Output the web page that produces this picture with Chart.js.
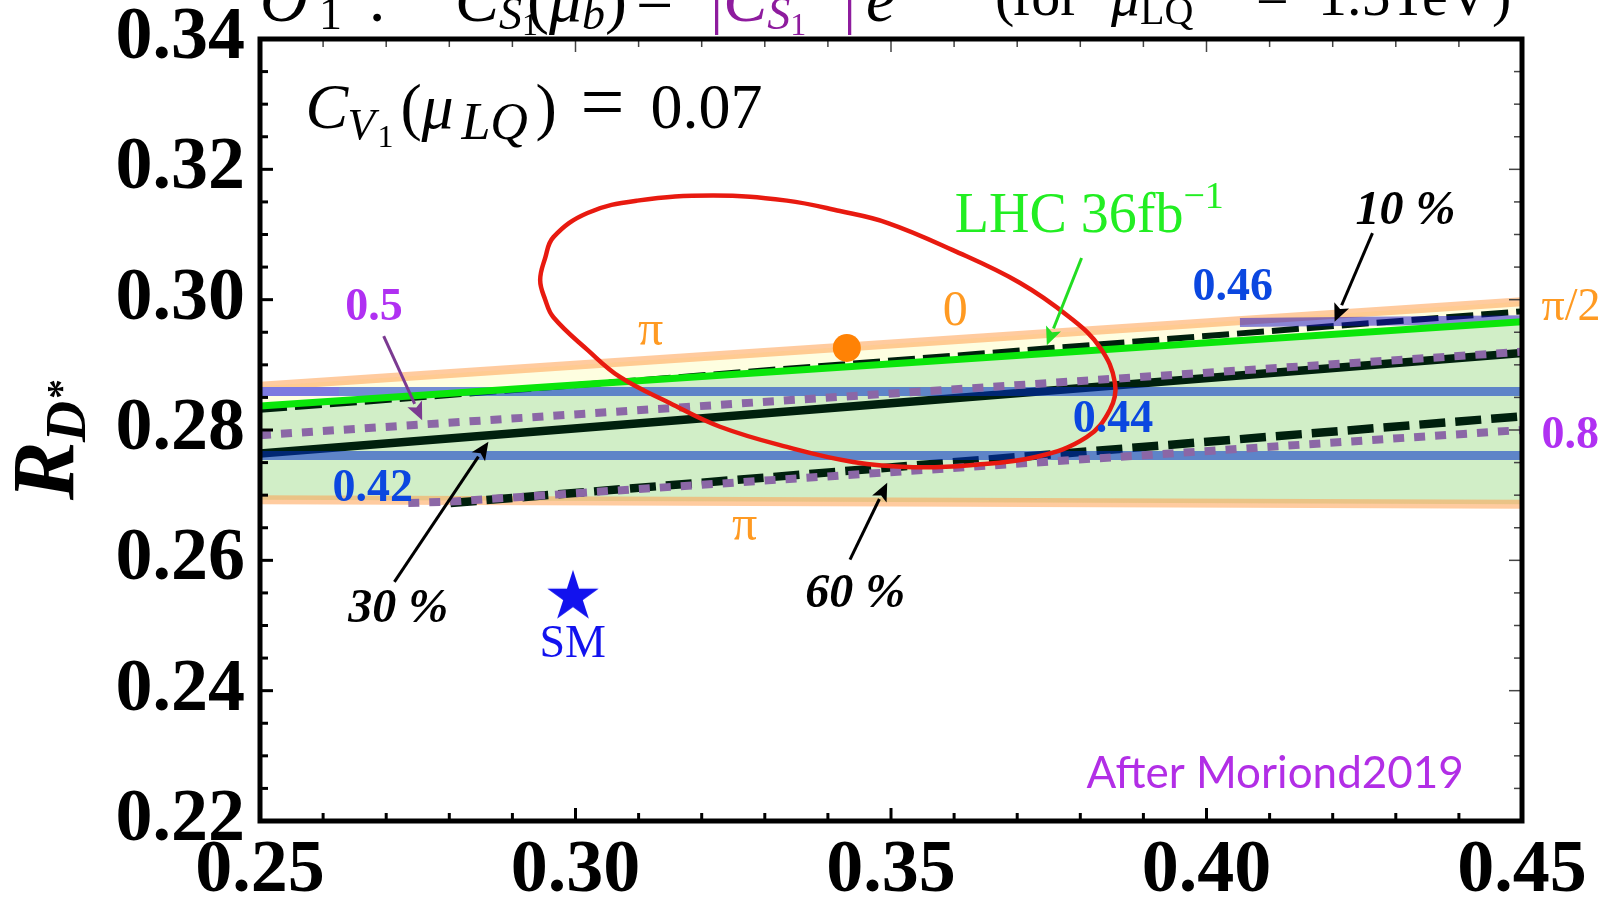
<!DOCTYPE html>
<html lang="en">
<head>
<meta charset="UTF-8">
<title>R_D* vs R_D, C_V1 = 0.07</title>
<script src="https://cdn.jsdelivr.net/npm/chart.js"></script>
<style>
  html, body { margin: 0; padding: 0; background: #fff; }
  canvas { display: block; }
</style>
</head>
<body>
<canvas id="rdChart" width="1613" height="909"></canvas>
<script>
// ---- values (x = R_D, y = R_D*) ----
const xEdges = [0.25, 0.45];
const lhcLine = [0.2837, 0.2966];      // LHC 36 fb^-1 bound
const phiUpper = [0.2867, 0.2997];     // phase scan, upper edge
const phiLower = [0.2693, 0.2686];     // phase scan, lower edge
const cs042 = [0.2761, 0.2761];        // |C_S1| contours
const cs044 = [0.2859, 0.2859];
const cs044LeftX = [0.25, 0.2625];     // violet stub of the 0.44 contour
const cs046X = [0.4053, 0.45];
const cs046Y = [0.2965, 0.2969];
const br10Y = [0.2831, 0.2982];        // B_c -> tau nu lines
const br30Y = [0.2764, 0.2918];
const br60X = [0.2802, 0.45];
const br60Y = [0.2688, 0.2821];
const r05Y = [0.2792, 0.2920];         // ratio lines
const r08X = [0.2735, 0.2800, 0.45];
const r08Y = [0.2688, 0.2690, 0.2800];
// 1 sigma ellipse, walked round once; the first three points repeat at the end
const ellipseX = [0.2944, 0.2952, 0.2965, 0.3019, 0.3098, 0.3218, 0.3335, 0.3419, 0.3494, 0.3598,
                  0.3704, 0.3783, 0.3831, 0.3855, 0.3847, 0.3810, 0.3731, 0.3625, 0.3535, 0.3440,
                  0.3335, 0.3229, 0.3150, 0.3071, 0.3019, 0.2965, 0.2952,
                  0.2944, 0.2952, 0.2965];
const ellipseY = [0.3030, 0.3064, 0.3096, 0.3133, 0.3152, 0.3160, 0.3152, 0.3136, 0.3118, 0.3076,
                  0.3026, 0.2973, 0.2927, 0.2872, 0.2831, 0.2789, 0.2759, 0.2746, 0.2743, 0.2751,
                  0.2774, 0.2805, 0.2841, 0.2881, 0.2923, 0.2973, 0.3000,
                  0.3030, 0.3064, 0.3096];
const bestFit = [0.3430, 0.2926];
const smPoint = [0.2996, 0.2544];

const serif = '"Liberation Serif", "Times New Roman", serif';

function pts(xs, ys) { return xs.map((x, i) => ({ x: x, y: ys[i] })); }

function lineSet(label, xs, ys, color, width, extra) {
  return Object.assign({
    label: label, data: pts(xs, ys), borderColor: color, borderWidth: width,
    pointRadius: 0, tension: 0, fill: false, clip: 0, borderCapStyle: 'butt'
  }, extra || {});
}

function makeStar(r, color) {
  const c = document.createElement('canvas');
  const s = Math.ceil(r * 2 + 2);
  c.width = s; c.height = s;
  const g = c.getContext('2d');
  g.fillStyle = color;
  g.beginPath();
  for (let i = 0; i < 10; i++) {
    const rad = i % 2 === 0 ? r : r * 0.382;
    const a = -Math.PI / 2 + i * Math.PI / 5;
    const px = s / 2 + rad * Math.cos(a), py = s / 2 + rad * Math.sin(a);
    if (i === 0) g.moveTo(px, py); else g.lineTo(px, py);
  }
  g.closePath();
  g.fill();
  return c;
}

const orangeBand = 'rgba(255,160,80,0.55)';
const blueBand = 'rgba(0,45,200,0.55)';
const violetBand = 'rgba(20,10,200,0.5)';
const dark = '#00200d';
const purpleDots = '#8b67a6';
const lastEllipse = ellipseX.length - 1;

const datasets = [
  lineSet('phi lower', xEdges, phiLower, orangeBand, 9, { order: 15 }),
  lineSet('phi upper', xEdges, phiUpper, orangeBand, 9, { order: 15 }),
  lineSet('allowed', xEdges, lhcLine, 'rgba(0,0,0,0)', 0, { order: 30, fill: { target: 0 }, backgroundColor: '#d1eec7' }),
  lineSet('excluded', xEdges, phiUpper, 'rgba(0,0,0,0)', 0, { order: 29, fill: { target: 2 }, backgroundColor: '#fefee0' }),
  lineSet('30 %', xEdges, br30Y, dark, 8.5, { order: 12 }),
  lineSet('10 %', xEdges, br10Y, dark, 6, { order: 12, borderDash: [27, 8] }),
  lineSet('60 %', br60X, br60Y, dark, 8.5, { order: 12, borderDash: [26, 10] }),
  lineSet('0.42', xEdges, cs042, blueBand, 9, { order: 10 }),
  lineSet('0.44', xEdges, cs044, blueBand, 9, { order: 10 }),
  lineSet('0.44 stub', cs044LeftX, cs044, '#7c79e0', 9, { order: 9 }),
  lineSet('0.46', cs046X, cs046Y, violetBand, 9, { order: 10 }),
  lineSet('0.5', xEdges, r05Y, purpleDots, 8, { order: 8, borderDash: [11, 10] }),
  lineSet('0.8', r08X, r08Y, purpleDots, 8, { order: 8, borderDash: [11, 10] }),
  lineSet('LHC 36fb-1', xEdges, lhcLine, '#0ae60a', 7, { order: 6 }),
  lineSet('1 sigma', ellipseX, ellipseY, '#e81a10', 4.5, {
    order: 4, tension: 0.4,
    // open ends of the wrapped loop are hidden so the closure stays smooth
    segment: { borderColor: c => (c.p0DataIndex === 0 || c.p1DataIndex === lastEllipse) ? 'rgba(0,0,0,0)' : undefined }
  }),
  { label: 'best fit', data: pts([bestFit[0]], [bestFit[1]]), showLine: false, pointRadius: 14,
    pointBackgroundColor: '#ff8205', pointBorderWidth: 0, order: 2 },
  { label: 'SM', data: pts([smPoint[0]], [smPoint[1]]), showLine: false, pointRadius: 27,
    pointStyle: makeStar(27, '#1212ee'), order: 1 }
];

// inward ticks on all four sides + frame
const frameTicks = {
  id: 'frameTicks',
  afterDatasetsDraw(chart) {
    const { ctx, chartArea: a, scales: { x, y } } = chart;
    ctx.save();
    for (let k = 0; k <= 20; k++) {
      const px = x.getPixelForValue(0.25 + k * 0.01);
      const len = k % 5 === 0 ? 13 : 8;
      ctx.strokeStyle = '#000'; ctx.lineWidth = 3;
      ctx.beginPath(); ctx.moveTo(px, a.bottom); ctx.lineTo(px, a.bottom - len); ctx.stroke();
      ctx.strokeStyle = '#444'; ctx.lineWidth = 1.5;
      ctx.beginPath(); ctx.moveTo(px, a.top); ctx.lineTo(px, a.top + len); ctx.stroke();
    }
    for (let k = 0; k <= 24; k++) {
      const py = y.getPixelForValue(0.22 + k * 0.005);
      const len = k % 4 === 0 ? 13 : 8;
      ctx.strokeStyle = '#000'; ctx.lineWidth = 3;
      ctx.beginPath(); ctx.moveTo(a.left, py); ctx.lineTo(a.left + len, py); ctx.stroke();
      ctx.strokeStyle = '#444'; ctx.lineWidth = 1.5;
      ctx.beginPath(); ctx.moveTo(a.right, py); ctx.lineTo(a.right - len, py); ctx.stroke();
    }
    ctx.strokeStyle = '#000';
    ctx.lineWidth = 5;
    ctx.strokeRect(a.left, a.top, a.right - a.left, a.bottom - a.top);
    ctx.restore();
  }
};

function drawRuns(ctx, x0, y0, runs) {
  let x = x0;
  for (const r of runs) {
    if (r.off !== undefined) x = x0 + r.off;
    ctx.font = r.f;
    ctx.fillStyle = r.c || '#000';
    ctx.fillText(r.t, x, y0 + (r.dy || 0));
    x += ctx.measureText(r.t).width;
  }
}

function arrow(ctx, x1, y1, x2, y2, color) {
  const ang = Math.atan2(y2 - y1, x2 - x1);
  const hl = 18, hw = 8;
  const bx = x2 - hl * Math.cos(ang), by = y2 - hl * Math.sin(ang);
  ctx.strokeStyle = color; ctx.lineWidth = 3;
  ctx.beginPath(); ctx.moveTo(x1, y1); ctx.lineTo(bx, by); ctx.stroke();
  ctx.fillStyle = color;
  ctx.beginPath(); ctx.moveTo(x2, y2);
  ctx.lineTo(bx + hw * Math.sin(ang), by - hw * Math.cos(ang));
  ctx.lineTo(bx + 4 * Math.cos(ang), by + 4 * Math.sin(ang));
  ctx.lineTo(bx - hw * Math.sin(ang), by + hw * Math.cos(ang));
  ctx.closePath(); ctx.fill();
}

const it = s => 'italic ' + s + 'px ' + serif;
const rm = s => s + 'px ' + serif;
const bd = s => 'bold ' + s + 'px ' + serif;
const bi = s => 'italic bold ' + s + 'px ' + serif;
const orangeTxt = '#ff9a22', blueTxt = '#0b47e0', purpleTxt = '#b030f2';

const notes = [
  { x: 0.2572, y: 0.3263, runs: [
    { t: 'C', f: it(64) }, { t: 'V', f: it(45), dy: 11, off: 42 }, { t: '1', f: rm(32), dy: 19, off: 72 },
    { t: '(', f: rm(64), off: 95 }, { t: 'μ', f: it(64), off: 116 }, { t: 'LQ', f: it(52), dy: 11, off: 156 },
    { t: ')', f: rm(64), off: 230 }, { t: '=', f: rm(78), off: 275 }, { t: '0.07', f: rm(64), off: 345 }] },
  { x: 0.3601, y: 0.3104, runs: [{ t: 'LHC 36fb', f: rm(56), c: '#22ee22' }, { t: '−1', f: rm(38), c: '#22ee22', dy: -24 }] },
  { x: 0.4236, y: 0.3116, runs: [{ t: '10 %', f: bi(48) }] },
  { x: 0.2640, y: 0.2505, runs: [{ t: '30 %', f: bi(48) }] },
  { x: 0.3364, y: 0.2528, runs: [{ t: '60 %', f: bi(48) }] },
  { x: 0.3978, y: 0.3000, runs: [{ t: '0.46', f: bd(46), c: blueTxt }] },
  { x: 0.3788, y: 0.2797, runs: [{ t: '0.44', f: bd(46), c: blueTxt }] },
  { x: 0.2615, y: 0.2691, runs: [{ t: '0.42', f: bd(46), c: blueTxt }] },
  { x: 0.2635, y: 0.2969, runs: [{ t: '0.5', f: bd(46), c: purpleTxt }] },
  { x: 0.4531, y: 0.2772, runs: [{ t: '0.8', f: bd(46), c: purpleTxt }] },
  { x: 0.4531, y: 0.2969, runs: [{ t: 'π/2', f: rm(46), c: orangeTxt }] },
  { x: 0.3582, y: 0.2961, runs: [{ t: '0', f: rm(50), c: orangeTxt }] },
  { x: 0.3099, y: 0.2930, runs: [{ t: 'π', f: rm(50), c: orangeTxt }] },
  { x: 0.3248, y: 0.2631, runs: [{ t: 'π', f: rm(50), c: orangeTxt }] },
  { x: 0.2943, y: 0.2452, runs: [{ t: 'SM', f: rm(46), c: '#1212ee' }] },
  { x: 0.3810, y: 0.2251, runs: [{ t: 'After Moriond2019', f: '44px Lato, "Open Sans", sans-serif', c: '#b22ee6' }] }
];

const arrows = [
  { from: [0.3802, 0.3064], to: [0.3747, 0.2930], c: '#22dd22' },
  { from: [0.4263, 0.3102], to: [0.4203, 0.2966], c: '#000' },
  { from: [0.2696, 0.2944], to: [0.2757, 0.2815], c: '#7b3a91' },
  { from: [0.2713, 0.2567], to: [0.2862, 0.2782], c: '#000' },
  { from: [0.3435, 0.2601], to: [0.3494, 0.2719], c: '#000' }
];

const decorations = {
  id: 'decorations',
  afterDraw(chart) {
    const { ctx, scales: { x, y } } = chart;
    ctx.save();
    ctx.textBaseline = 'alphabetic';
    ctx.textAlign = 'left';
    for (const n of notes) drawRuns(ctx, x.getPixelForValue(n.x), y.getPixelForValue(n.y), n.runs);
    for (const a of arrows) {
      arrow(ctx, x.getPixelForValue(a.from[0]), y.getPixelForValue(a.from[1]),
                 x.getPixelForValue(a.to[0]), y.getPixelForValue(a.to[1]), a.c);
    }
    // title, mostly cut off by the top edge
    const purple = '#8e1c9e';
    drawRuns(ctx, 0, 21, [
      { t: 'O', f: it(66), off: 260 }, { t: '1', f: rm(46), dy: 8, off: 319 }, { t: ':', f: rm(66), off: 368 },
      { t: 'C', f: it(66), off: 455 }, { t: 'S', f: it(46), dy: 8 }, { t: '1', f: rm(32), dy: 14 },
      { t: '(', f: rm(66), off: 527 }, { t: 'μ', f: it(66) }, { t: 'b', f: it(46), dy: 8 }, { t: ')', f: rm(66) },
      { t: '=', f: rm(66), off: 636 },
      { t: '|', f: rm(66), c: purple, off: 710 }, { t: 'C', f: it(66), c: purple }, { t: 'S', f: it(46), c: purple, dy: 8 },
      { t: '1', f: rm(32), c: purple, dy: 14 }, { t: '|', f: rm(66), c: purple, off: 843 },
      { t: 'e', f: it(66), off: 866 }, { t: 'iφ', f: it(46), dy: -34 }
    ]);
    drawRuns(ctx, 0, 15, [
      { t: '(', f: rm(58), off: 995 }, { t: 'for', f: rm(58), off: 1012 }, { t: 'μ', f: it(58), off: 1111 },
      { t: 'LQ', f: rm(40), dy: 9 }, { t: '=', f: rm(58), off: 1256 }, { t: '1.5TeV', f: rm(58), off: 1318 },
      { t: ')', f: rm(58), off: 1492 }
    ]);
    // y axis title R_{D*}
    ctx.translate(73, 500);
    ctx.rotate(-Math.PI / 2);
    drawRuns(ctx, 0, 0, [
      { t: 'R', f: bi(88) }, { t: 'D', f: bi(57), dy: 12, off: 58 }, { t: '*', f: bd(40), dy: 1, off: 101 }
    ]);
    ctx.restore();
  }
};

new Chart(document.getElementById('rdChart'), {
  type: 'line',
  data: { datasets: datasets },
  options: {
    responsive: false,
    animation: false,
    events: [],
    layout: { padding: { left: 0, right: 91, top: 39, bottom: 0 } },
    plugins: { legend: { display: false }, tooltip: { enabled: false } },
    scales: {
      x: {
        type: 'linear', min: 0.25, max: 0.45,
        grid: { display: false, drawTicks: false }, border: { display: false },
        ticks: { stepSize: 0.05, padding: 14, color: '#000', maxRotation: 0, autoSkip: false,
                 font: { family: serif, size: 74, weight: 'bold', lineHeight: 1 },
                 callback: v => v.toFixed(2) },
        afterFit: s => { s.height = 88; s.paddingLeft = 0; s.paddingRight = 0; }
      },
      y: {
        type: 'linear', min: 0.22, max: 0.34,
        grid: { display: false, drawTicks: false }, border: { display: false },
        ticks: { stepSize: 0.02, padding: 15, color: '#000', autoSkip: false,
                 font: { family: serif, size: 74, weight: 'bold', lineHeight: 1 },
                 callback: v => v.toFixed(2) },
        afterFit: s => { s.width = 260; s.paddingTop = 0; s.paddingBottom = 0; }
      }
    }
  },
  plugins: [frameTicks, decorations]
});
</script>
</body>
</html>
